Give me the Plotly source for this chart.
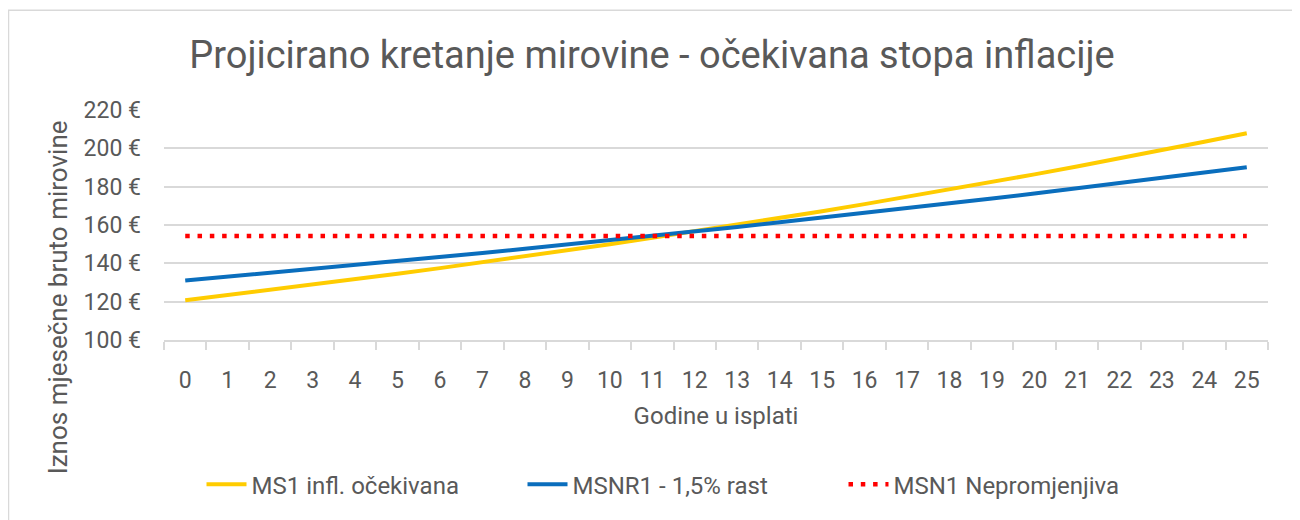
import plotly.graph_objects as go

years = [str(i) for i in range(26)]
ms1_infl = [120.7, 123.4, 126.1, 128.8, 131.7, 134.6, 137.5, 140.5, 143.6, 146.8,
            150.0, 153.3, 156.7, 160.1, 163.6, 167.2, 170.9, 174.7, 178.5, 182.4,
            186.4, 190.5, 194.7, 199.0, 203.4, 207.9]
msnr1_rast = [131.0, 133.0, 135.0, 137.0, 139.0, 141.1, 143.2, 145.4, 147.6, 149.8,
              152.0, 154.3, 156.6, 159.0, 161.4, 163.8, 166.2, 168.7, 171.3, 173.8,
              176.4, 179.1, 181.8, 184.5, 187.2, 190.1]
msn1_const = [154.3] * 26

series_names = ["MS1 infl. očekivana", "MSNR1 - 1,5% rast", "MSN1 Nepromjenjiva"]

FONT = "Roboto"
TXT = "#595959"
GRID = "#d9d9d9"

fig = go.Figure()
fig.add_trace(go.Scatter(x=years, y=ms1_infl, mode="lines", name=series_names[0],
                         line=dict(color="#FFCC00", width=4)))
fig.add_trace(go.Scatter(x=years, y=msnr1_rast, mode="lines", name=series_names[1],
                         line=dict(color="#0A6EBD", width=4)))
fig.add_trace(go.Scatter(x=years, y=msn1_const, mode="lines", name=series_names[2],
                         line=dict(color="#FF0000", width=4.5, dash="4.5px,7.8px")))

# page body has an 8px margin; work in screen coordinates and shift
O = 8
W, H = 1300 - O, 520 - O
PL, PR, PT, PB = 164, 1268, 110, 342  # plot area in screen pixels
L, R, T, B = PL - O, (W + O) - PR, PT - O, (H + O) - PB
pw = PR - PL
ph = PB - PT

def px_x(x):
    return (x - PL) / pw

def px_y(y):
    return (PB - y) / ph

fig.update_layout(
    width=W, height=H,
    margin=dict(l=L, r=R, t=T, b=B),
    paper_bgcolor="white", plot_bgcolor="white",
    font=dict(family=FONT, color=TXT, size=23),
    title=dict(text="Projicirano kretanje mirovine - očekivana stopa inflacije",
               x=(652 - O) / W, xref="container", xanchor="center",
               y=1 - (55 - O) / H, yref="container", yanchor="middle",
               font=dict(family=FONT, size=38, color=TXT)),
    xaxis=dict(type="category", range=[-0.5, 25.5], showgrid=False,
               showline=True, linecolor=GRID, linewidth=1.5,
               ticks="outside", tickson="boundaries", ticklen=8,
               tickcolor=GRID, tickwidth=1.5,
               tickfont=dict(size=23, color=TXT), ticklabelstandoff=19,
               title=dict(text="Godine u isplati", standoff=14,
                          font=dict(size=24, color=TXT))),
    yaxis=dict(range=[100, 220], dtick=20, tick0=100, showgrid=True,
               gridcolor=GRID, gridwidth=1.5, zeroline=False, showline=False,
               ticksuffix=" €", tickfont=dict(size=23, color=TXT),
               ticklabelstandoff=22),
    showlegend=True,
    legend=dict(orientation="h", x=px_x(683), xanchor="center",
                y=px_y(488), yanchor="middle",
                font=dict(size=24, color=TXT), entrywidth=266,
                itemwidth=40),
    shapes=[dict(type="rect", xref="paper", yref="paper",
                 x0=px_x(8.5), x1=px_x(1297), y0=px_y(540), y1=px_y(9.5),
                 line=dict(color=GRID, width=1.5), layer="below")],
    annotations=[dict(text="Iznos mjesečne bruto mirovine", textangle=-90,
                      xref="paper", yref="paper", x=px_x(58), y=px_y(299),
                      xanchor="center", yanchor="middle", showarrow=False,
                      font=dict(size=26, color=TXT))],
)

fig.write_html("out.html")
